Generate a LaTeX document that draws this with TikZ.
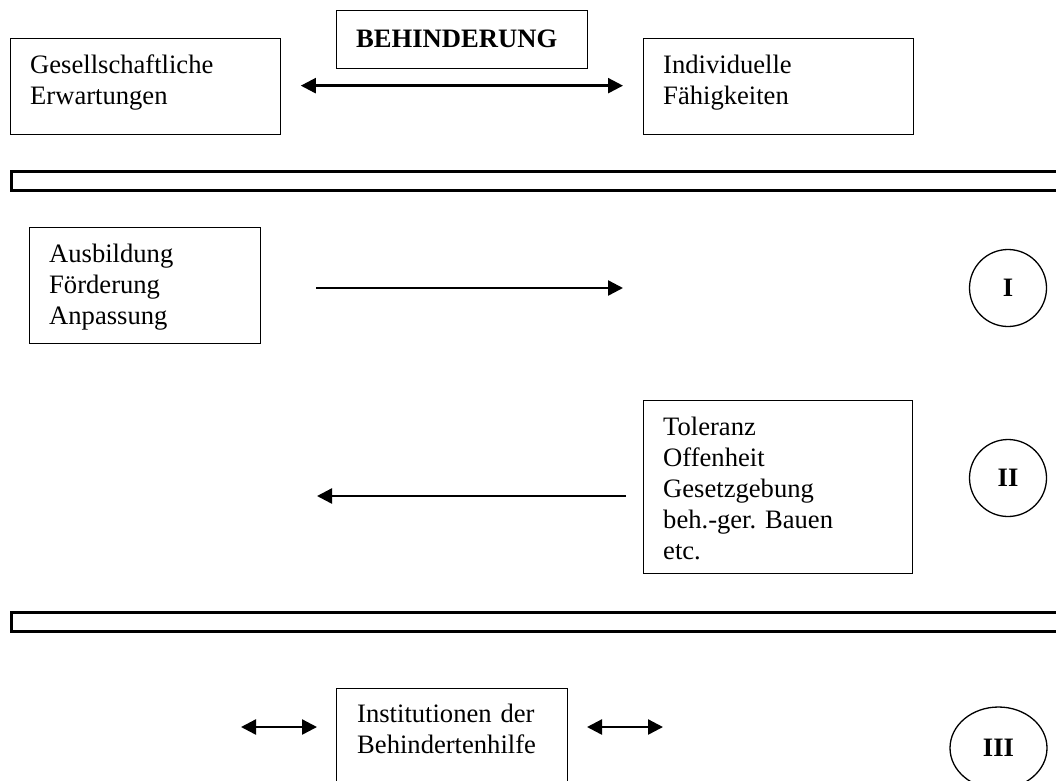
\documentclass[tikz,border=0pt]{standalone}
\usepackage{fontspec}
\setmainfont{Liberation Serif}
\usetikzlibrary{arrows.meta,shapes.geometric}
\frenchspacing
\begin{document}
\begin{tikzpicture}[x=1pt,y=-1pt,
  box/.style={draw,line width=1.3pt,inner sep=0pt,anchor=north west},
  bar/.style={draw,line width=2.6pt,inner sep=0pt,anchor=north west},
  txt/.style={inner sep=0pt,anchor=base west,align=left,text width=#1,
    font=\fontsize{26.6}{31}\selectfont},
  txt/.default=260pt,
  arr/.style={line width=2.4pt,-{Triangle[length=15pt,width=15pt]}},
  darr/.style={line width=2.4pt,{Triangle[length=15pt,width=15pt]}-{Triangle[length=15pt,width=15pt]}},
  ring/.style={draw,line width=1.3pt,inner sep=0pt,font=\fontsize{26.6}{31}\selectfont\bfseries}]
\useasboundingbox (0,0) rectangle (1056,780);
\clip (0,0) rectangle (1056,780);
\fill[white] (0,0) rectangle (1056,780);
% top row
\node[box,minimum width=251pt,minimum height=58pt] (beh) at (336,10) {};
\node[txt=210pt,font=\fontsize{26.6}{31}\selectfont\bfseries] (beht) at (356,47) {BEHINDERUNG};
\node[box,minimum width=270pt,minimum height=96pt] (ges) at (9.5,38) {};
\node[txt] (gest) at (30,73) {Gesellschaftliche\\Erwartungen};
\node[box,minimum width=270pt,minimum height=96pt] (ind) at (643,38) {};
\node[txt] (indt) at (663,73) {Individuelle\\Fähigkeiten};
\draw[darr,shorten <=20pt,shorten >=20pt] ([yshift=1pt]ges.east) -- ([yshift=1pt]ind.west);
% bar 1
\node[bar,minimum width=1080pt,minimum height=19pt] (bar1) at (10,170) {};
% row I
\node[box,minimum width=231pt,minimum height=116pt] (aus) at (29,227) {};
\node[txt] (aust) at (49,262) {Ausbildung\\Förderung\\Anpassung};
\coordinate (a1s) at (316,288);
\coordinate (a1e) at (623,288);
\draw[arr] (a1s) -- (a1e);
\node[ring,circle,minimum size=77pt] (c1) at (1008,288) {I};
% row II
\node[box,minimum width=269pt,minimum height=173pt] (tol) at (643,400) {};
\node[txt] (tolt) at (663,435) {Toleranz\\Offenheit\\Gesetzgebung\\beh.-ger. Bauen\\etc.};
\coordinate (a2s) at (626,496);
\coordinate (a2e) at (317,496);
\draw[arr] (a2s) -- (a2e);
\node[ring,circle,minimum size=77pt] (c2) at (1008,478) {II};
% bar 2
\node[bar,minimum width=1080pt,minimum height=19pt] (bar2) at (10,611) {};
% row III
\node[box,minimum width=231pt,minimum height=140pt] (inst) at (336,688) {};
\node[txt] (instt) at (357,722) {Institutionen der\\Behindertenhilfe};
\coordinate (b1s) at (241,727);
\coordinate (b1e) at (317,727);
\draw[darr] (b1s) -- (b1e);
\coordinate (b2s) at (587,727);
\coordinate (b2e) at (663,727);
\draw[darr] (b2s) -- (b2e);
\node[ring,ellipse,minimum width=97pt,minimum height=82pt] (c3) at (998.5,748) {III};
\end{tikzpicture}
\end{document}
